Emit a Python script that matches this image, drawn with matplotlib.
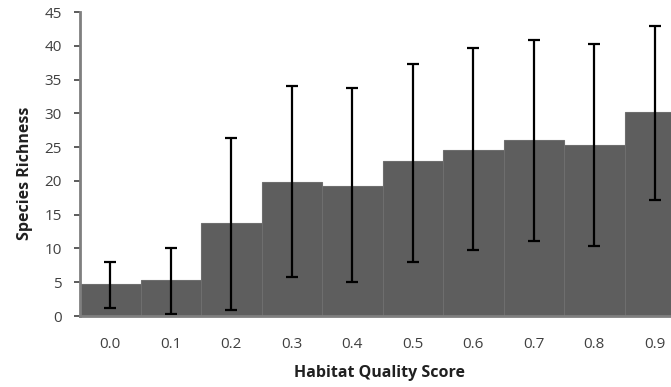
import numpy as np
import matplotlib
matplotlib.use('Agg')
import matplotlib.pyplot as plt

plt.rcParams['font.family'] = ['Open Sans', 'DejaVu Sans']

# habitat quality score categories and mean species richness
scores = ['0.0', '0.1', '0.2', '0.3', '0.4', '0.5', '0.6', '0.7', '0.8', '0.9']
richness = [4.8, 5.4, 13.7, 19.9, 19.3, 22.9, 24.6, 26.1, 25.3, 30.2]
err_top = [8.0, 10.0, 26.3, 34.0, 33.7, 37.3, 39.7, 40.9, 40.3, 43.0]
err_bottom = [1.2, 0.3, 0.9, 5.7, 5.0, 8.0, 9.8, 11.1, 10.3, 17.2]

x = np.arange(len(scores))
richness = np.array(richness)
yerr = [richness - np.array(err_bottom), np.array(err_top) - richness]

fig = plt.figure(figsize=(6.71, 3.87), dpi=100)
# the original is cropped on the right, so the axes run past the figure edge
ax = fig.add_axes([80/671, 71/387, 605/671, 304/387])

ax.bar(x, richness, width=1.0, color='#5e5e5e', edgecolor='#6e6e6e', linewidth=0.8)
ax.errorbar(x, richness, yerr=yerr, fmt='none', ecolor='black', elinewidth=1.6,
            capsize=4.5, capthick=1.6)

ax.set_xlim(-0.5, 9.5)
ax.set_ylim(0, 45)
ax.set_yticks(range(0, 46, 5))
ax.set_xticks(x)
ax.set_xticklabels(scores)

for s in ['top', 'right']:
    ax.spines[s].set_visible(False)
ax.spines['left'].set_color('#7f7f7f')
ax.spines['left'].set_linewidth(2)
ax.spines['bottom'].set_color('#7f7f7f')
ax.spines['bottom'].set_linewidth(2)

ax.tick_params(axis='y', length=4, width=1.2, color='#404040', labelsize=11,
               labelcolor='#404040', pad=9)
ax.tick_params(axis='x', length=0, labelsize=11, labelcolor='#404040', pad=15)

fig.text(380/671, 1 - 373/387, 'Habitat Quality Score', fontsize=11.5,
         fontweight='bold', color='#202020', ha='center', va='center')
fig.text(25/671, 1 - 173/387, 'Species Richness', fontsize=11.5, rotation=90,
         fontweight='bold', color='#202020', ha='center', va='center')

fig.savefig('out.png', dpi=100)
